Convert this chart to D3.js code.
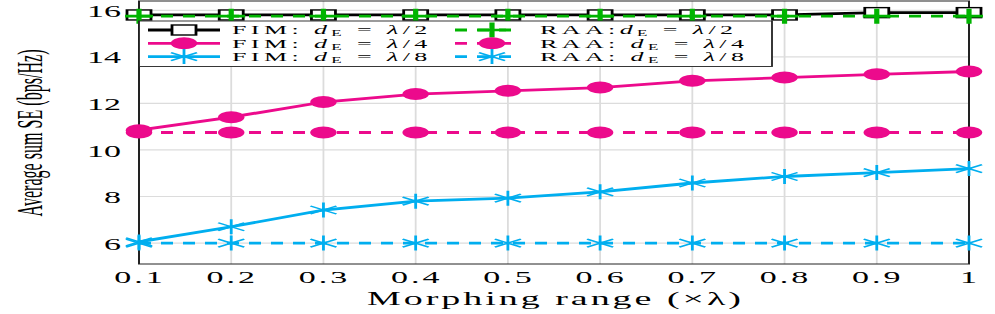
<!DOCTYPE html>
<html>
<head>
<meta charset="utf-8">
<script src="https://cdn.jsdelivr.net/npm/d3@7"></script>
<style>
  html, body { margin: 0; padding: 0; background: #fff; }
  svg { display: block; }
  text { font-family: "Liberation Serif", "Times New Roman", serif; fill: #000; }
</style>
</head>
<body>
<div id="chart"></div>
<script>
// data
var ranges = [0.1, 0.2, 0.3, 0.4, 0.5, 0.6, 0.7, 0.8, 0.9, 1];
var xTickLabels = ["0.1", "0.2", "0.3", "0.4", "0.5", "0.6", "0.7", "0.8", "0.9", "1"];
var yTicks = [6, 8, 10, 12, 14, 16];

var fimHalf    = [15.8, 15.8, 15.8, 15.8, 15.8, 15.8, 15.8, 15.8, 15.9, 15.9];
var raaHalf    = [15.75, 15.75, 15.75, 15.75, 15.75, 15.75, 15.75, 15.75, 15.75, 15.75];
var fimQuarter = [10.85, 11.41, 12.06, 12.4, 12.54, 12.68, 12.97, 13.11, 13.25, 13.37];
var raaQuarter = [10.75, 10.75, 10.75, 10.75, 10.75, 10.75, 10.75, 10.75, 10.75, 10.75];
var fimEighth  = [6.05, 6.7, 7.42, 7.8, 7.93, 8.2, 8.58, 8.86, 9.03, 9.2];
var raaEighth  = [6, 6, 6, 6, 6, 6, 6, 6, 6, 6];

var MAGENTA = "#ec0a8c", CYAN = "#00aeef", GREEN = "#00b400";

var series = [
  {name: "FIM", frac: "2", values: fimHalf,    color: "#000",  dash: null,  marker: "square"},
  {name: "FIM", frac: "4", values: fimQuarter, color: MAGENTA, dash: null,  marker: "circle"},
  {name: "FIM", frac: "8", values: fimEighth,  color: CYAN,    dash: null,  marker: "asterisk"},
  {name: "RAA", frac: "2", values: raaHalf,    color: GREEN,   dash: "6,5", marker: "plus", tight: true},
  {name: "RAA", frac: "4", values: raaQuarter, color: MAGENTA, dash: "6,5", marker: "circle"},
  {name: "RAA", frac: "8", values: raaEighth,  color: CYAN,    dash: "6,5", marker: "asterisk"}
];

// the whole picture is stretched sideways by 2
var WIDTH = 995, HEIGHT = 314, SX = 2;
var W = WIDTH / SX;

var svg = d3.select("#chart").append("svg")
  .attr("width", WIDTH).attr("height", HEIGHT)
  .attr("viewBox", "0 0 " + W + " " + HEIGHT)
  .attr("preserveAspectRatio", "none");

var x = d3.scaleLinear().domain([0.1, 1]).range([69.5, 484.5]);
var y = d3.scaleLinear().domain([5.1, 16.4]).range([264, 1]);

// grid
svg.append("g").selectAll("line").data(ranges).enter().append("line")
  .attr("x1", function(d) { return x(d); }).attr("x2", function(d) { return x(d); })
  .attr("y1", y.range()[0]).attr("y2", y.range()[1])
  .attr("stroke", "#dcdcdc").attr("stroke-width", 0.9);
svg.append("g").selectAll("line").data(yTicks).enter().append("line")
  .attr("x1", x.range()[0]).attr("x2", x.range()[1])
  .attr("y1", function(d) { return y(d); }).attr("y2", function(d) { return y(d); })
  .attr("stroke", "#dcdcdc").attr("stroke-width", 1.2);

// frame
svg.append("rect")
  .attr("x", x.range()[0]).attr("y", y.range()[1])
  .attr("width", x.range()[1] - x.range()[0]).attr("height", y.range()[0] - y.range()[1])
  .attr("fill", "none").attr("stroke", "#222").attr("stroke-width", 1);

// axes
var xAxis = svg.append("g").attr("transform", "translate(0," + y.range()[0] + ")")
  .call(d3.axisBottom(x).tickValues(ranges).tickSize(0).tickPadding(0)
    .tickFormat(function(d, i) { return xTickLabels[i]; }));
xAxis.select(".domain").remove();
xAxis.selectAll("text").attr("y", 19).attr("dy", 0)
  .style("font-size", "17px").style("letter-spacing", "1.5px")
  .attr("font-family", null);

var yAxis = svg.append("g").attr("transform", "translate(" + x.range()[0] + ",0)")
  .call(d3.axisLeft(y).tickValues(yTicks).tickSize(0).tickPadding(9));
yAxis.select(".domain").remove();
yAxis.selectAll("text").style("font-size", "17px").attr("dy", "0.36em").attr("font-family", null);

// titles
svg.append("text")
  .attr("x", (x.range()[0] + x.range()[1]) / 2).attr("y", 305)
  .attr("text-anchor", "middle")
  .attr("textLength", 187).attr("lengthAdjust", "spacing")
  .style("font-size", "19px")
  .text("Morphing range (\u00d7\u03bb)");

svg.append("text")
  .attr("transform", "translate(21,133) rotate(-90)")
  .attr("text-anchor", "middle")
  .attr("textLength", 167).attr("lengthAdjust", "spacingAndGlyphs")
  .style("font-size", "18px")
  .text("Average sum SE (bps/Hz)");

// markers
function drawMarker(g, type, color) {
  if (type === "square") {
    g.append("rect").attr("x", -6).attr("y", -5).attr("width", 12).attr("height", 10)
      .attr("fill", "#fff").attr("stroke", color).attr("stroke-width", 1.4);
  } else if (type === "circle") {
    g.append("ellipse").attr("rx", 6.6).attr("ry", 6).attr("fill", color);
  } else if (type === "plus") {
    g.append("path").attr("d", "M-7,0H7M0,-7.5V7.5")
      .attr("stroke", color).attr("stroke-width", 2.6).attr("fill", "none");
  } else if (type === "asterisk") {
    g.append("path").attr("d", "M0,-7.5V7.5M-6.5,-4L6.5,4M-6.5,4L6.5,-4")
      .attr("stroke", color).attr("stroke-width", 1.4).attr("fill", "none");
  }
}

var line = d3.line()
  .x(function(d, i) { return x(ranges[i]); })
  .y(function(d) { return y(d); });

// draw lower series first so the top group stays readable
var drawOrder = [5, 4, 2, 1, 0, 3];
drawOrder.forEach(function(k) {
  var s = series[k];
  var g = svg.append("g");
  g.append("path").datum(s.values)
    .attr("d", line)
    .attr("fill", "none").attr("stroke", s.color)
    .attr("stroke-width", 2.8)
    .attr("stroke-dasharray", s.dash);
  g.selectAll("g.m").data(s.values).enter().append("g")
    .attr("transform", function(d, i) { return "translate(" + x(ranges[i]) + "," + y(d) + ")"; })
    .each(function() { drawMarker(d3.select(this), s.marker, s.color); });
});

// legend
var legend = svg.append("g");
legend.append("rect")
  .attr("x", 69.5).attr("y", 21).attr("width", 386 - 69.5).attr("height", 45.5)
  .attr("fill", "#fff").attr("stroke", "#222").attr("stroke-width", 0.9);

var rowY = [30, 43.3, 56.6];
var cols = [{x0: 74, x1: 110, mx: 92, tx: 116}, {x0: 227.5, x1: 259, mx: 246, tx: 270}];

series.forEach(function(s, i) {
  var c = cols[Math.floor(i / 3)], yy = rowY[i % 3];
  var item = legend.append("g");
  item.append("line").attr("x1", c.x0).attr("x2", c.x1).attr("y1", yy).attr("y2", yy)
    .attr("stroke", s.color).attr("stroke-width", 2.8).attr("stroke-dasharray", s.dash);
  drawMarker(item.append("g").attr("transform", "translate(" + c.mx + "," + yy + ")"), s.marker, s.color);

  var t = item.append("text").attr("x", c.tx).attr("y", yy + 4.5)
    .style("font-size", "13px").style("letter-spacing", "2.2px");
  t.append("tspan").text(s.name + (s.tight ? ":" : ": "));
  t.append("tspan").style("font-style", "italic").text("d");
  t.append("tspan").attr("dy", 1.8).style("font-size", "8.5px").text("E");
  t.append("tspan").attr("dy", -1.8).text(" = ");
  t.append("tspan").style("font-style", "italic").text("\u03bb");
  t.append("tspan").text("/" + s.frac);
});
</script>
</body>
</html>
